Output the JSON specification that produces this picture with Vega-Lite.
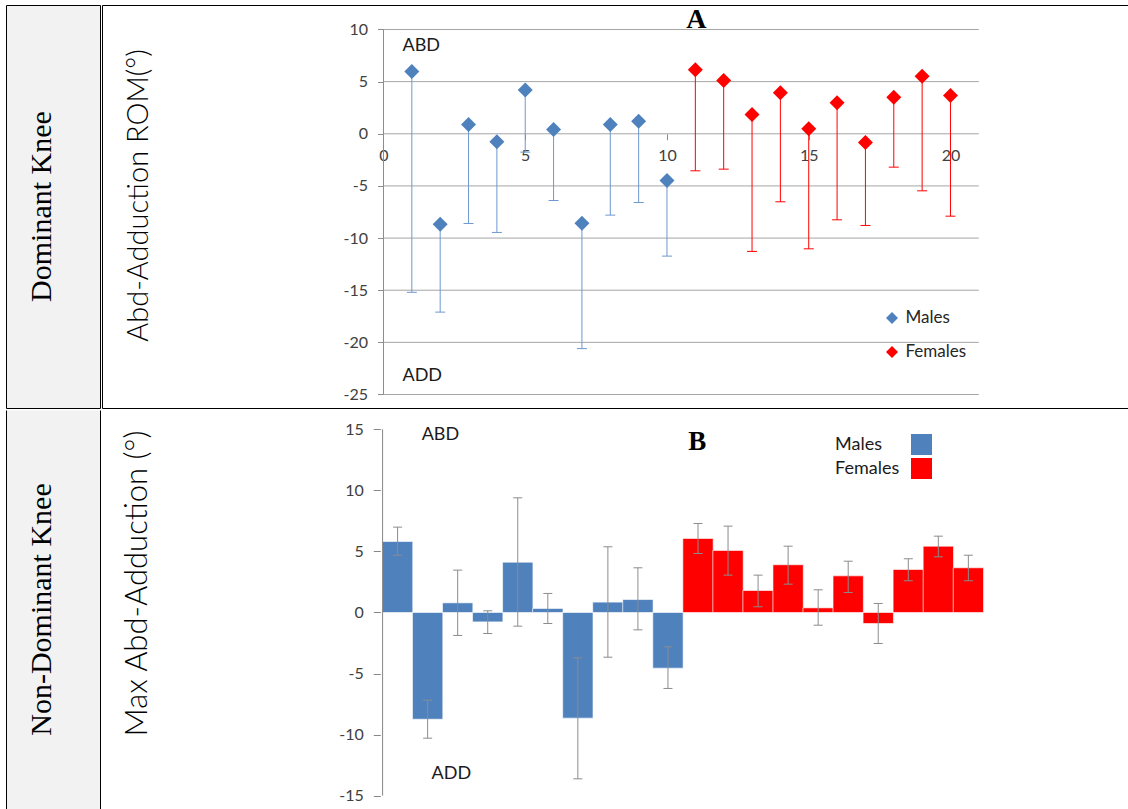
{
  "$schema": "https://vega.github.io/schema/vega-lite/v6.json",
  "padding": {"left": 5, "top": 4, "right": 0, "bottom": 0},
  "background": "white",
  "spacing": 0,
  "config": {"concat": {"spacing": 0}, "view": {"stroke": null}, "font": "Lato"},
  "datasets": {
    "knees": [
      {"id": 1, "sex": "Males", "dom": 5.97, "dom_low": -15.2, "nd": 5.81, "nd_lo": 4.69, "nd_hi": 6.99},
      {"id": 2, "sex": "Males", "dom": -8.67, "dom_low": -17.1, "nd": -8.74, "nd_lo": -10.29, "nd_hi": -7.18},
      {"id": 3, "sex": "Males", "dom": 0.89, "dom_low": -8.6, "nd": 0.79, "nd_lo": -1.88, "nd_hi": 3.47},
      {"id": 4, "sex": "Males", "dom": -0.77, "dom_low": -9.46, "nd": -0.77, "nd_lo": -1.72, "nd_hi": 0.14},
      {"id": 5, "sex": "Males", "dom": 4.2, "dom_low": -1.76, "nd": 4.12, "nd_lo": -1.12, "nd_hi": 9.39},
      {"id": 6, "sex": "Males", "dom": 0.41, "dom_low": -6.4, "nd": 0.33, "nd_lo": -0.9, "nd_hi": 1.56},
      {"id": 7, "sex": "Males", "dom": -8.57, "dom_low": -20.6, "nd": -8.65, "nd_lo": -13.62, "nd_hi": -3.71},
      {"id": 8, "sex": "Males", "dom": 0.89, "dom_low": -7.8, "nd": 0.85, "nd_lo": -3.66, "nd_hi": 5.38},
      {"id": 9, "sex": "Males", "dom": 1.21, "dom_low": -6.59, "nd": 1.06, "nd_lo": -1.42, "nd_hi": 3.66},
      {"id": 10, "sex": "Males", "dom": -4.48, "dom_low": -11.73, "nd": -4.56, "nd_lo": -6.22, "nd_hi": -2.81},
      {"id": 11, "sex": "Females", "dom": 6.13, "dom_low": -3.55, "nd": 6.06, "nd_lo": 4.83, "nd_hi": 7.29},
      {"id": 12, "sex": "Females", "dom": 5.11, "dom_low": -3.39, "nd": 5.08, "nd_lo": 3.06, "nd_hi": 7.07},
      {"id": 13, "sex": "Females", "dom": 1.85, "dom_low": -11.28, "nd": 1.8, "nd_lo": 0.47, "nd_hi": 3.06},
      {"id": 14, "sex": "Females", "dom": 3.93, "dom_low": -6.52, "nd": 3.91, "nd_lo": 2.32, "nd_hi": 5.43},
      {"id": 15, "sex": "Females", "dom": 0.48, "dom_low": -11.03, "nd": 0.38, "nd_lo": -1.04, "nd_hi": 1.86},
      {"id": 16, "sex": "Females", "dom": 2.97, "dom_low": -8.25, "nd": 3.0, "nd_lo": 1.64, "nd_hi": 4.2},
      {"id": 17, "sex": "Females", "dom": -0.83, "dom_low": -8.79, "nd": -0.9, "nd_lo": -2.54, "nd_hi": 0.74},
      {"id": 18, "sex": "Females", "dom": 3.51, "dom_low": -3.2, "nd": 3.52, "nd_lo": 2.6, "nd_hi": 4.4},
      {"id": 19, "sex": "Females", "dom": 5.52, "dom_low": -5.47, "nd": 5.43, "nd_lo": 4.56, "nd_hi": 6.25},
      {"id": 20, "sex": "Females", "dom": 3.67, "dom_low": -7.9, "nd": 3.66, "nd_lo": 2.6, "nd_hi": 4.69}
    ]
  },
  "resolve": {"scale": {"x": "independent", "y": "independent", "color": "independent"}, "legend": {"color": "independent"}},
  "vconcat": [
    {
      "spacing": 0,
      "resolve": {"scale": {"x": "independent", "y": "independent", "color": "independent"}, "legend": {"color": "independent"}},
      "hconcat": [
        {
          "width": 94, "height": 403,
          "view": {"fill": "#f2f2f2", "stroke": "black", "strokeWidth": 1},
          "data": {"values": [{"label": "Dominant Knee"}]},
          "mark": {"type": "text", "angle": 270, "font": "Liberation Serif", "fontSize": 30, "align": "center", "baseline": "middle", "color": "black"},
          "encoding": {
            "x": {"datum": 0.388, "type": "quantitative", "scale": {"domain": [0, 1]}, "axis": null},
            "y": {"datum": 0.5, "type": "quantitative", "scale": {"domain": [0, 1]}, "axis": null},
            "text": {"field": "label"}
          }
        },
        {
          "width": 1027, "height": 403,
          "view": {"stroke": "black", "strokeWidth": 1, "strokeDash": [1027, 403, 1430, 0]},
          "data": {"name": "knees"},
          "layer": [
            {
              "data": {"values": [{"g": 10}, {"g": 5}, {"g": 0}, {"g": -5}, {"g": -10}, {"g": -15}, {"g": -20}, {"g": -25}]},
              "mark": {"type": "rule", "color": "#a5a5a5", "strokeWidth": 1},
              "encoding": {
                "y": {"field": "g", "type": "quantitative", "scale": {"domain": [-26.295, 12.349], "nice": false, "zero": false},
                  "axis": {"orient": "left", "offset": -281.5, "values": [10, 5, 0, -5, -10, -15, -20, -25], "domain": false, "grid": false, "ticks": true, "tickSize": 6, "tickColor": "#8c8c8c", "labelPadding": 10, "labelFont": "Lato", "labelFontSize": 16, "labelColor": "#404040", "labelFlush": false, "labelOverlap": false, "labelExpr": "'' + datum.value",
                    "title": "Abd-Adduction ROM(°)", "titleFont": "Lato", "titleFontSize": 29, "titleFontWeight": 300, "titleColor": "#000000", "titleX": -245, "titleY": 190, "titleAngle": 270, "titleAlign": "center", "titleBaseline": "middle"}},
                "x": {"datum": 0, "type": "quantitative", "scale": {"domain": [-9.929, 26.297], "nice": false, "zero": false},
                  "axis": {"orient": "bottom", "offset": -274.2, "values": [0, 5, 10, 15, 20], "domain": false, "grid": false, "ticks": true, "tickSize": 6, "tickColor": "#8c8c8c", "labelPadding": 8, "labelFont": "Lato", "labelFontSize": 16, "labelColor": "#404040", "labelFlush": false, "labelOverlap": false, "title": null}},
                "x2": {"datum": 21}
              }
            },
            {
              "data": {"values": [{}]},
              "mark": {"type": "rule", "color": "#8c8c8c", "strokeWidth": 1},
              "encoding": {
                "x": {"datum": 0, "type": "quantitative"},
                "y": {"datum": 10, "type": "quantitative"},
                "y2": {"datum": -25}
              }
            },
            {
              "mark": {"type": "rule", "strokeWidth": 1},
              "encoding": {
                "x": {"field": "id", "type": "quantitative"},
                "y": {"field": "dom", "type": "quantitative"},
                "y2": {"field": "dom_low"},
                "stroke": {"field": "sex", "type": "nominal", "scale": {"domain": ["Males", "Females"], "range": ["#6e98cf", "#ff0000"]}, "legend": null}
              }
            },
            {
              "mark": {"type": "tick", "orient": "horizontal", "size": 10, "thickness": 1, "opacity": 1},
              "encoding": {
                "x": {"field": "id", "type": "quantitative"},
                "y": {"field": "dom_low", "type": "quantitative"},
                "fill": {"field": "sex", "type": "nominal", "scale": {"domain": ["Males", "Females"], "range": ["#6e98cf", "#ff0000"]}, "legend": null}
              }
            },
            {
              "mark": {"type": "point", "shape": "diamond", "filled": true, "size": 225, "opacity": 1},
              "encoding": {
                "x": {"field": "id", "type": "quantitative"},
                "y": {"field": "dom", "type": "quantitative"},
                "color": {"field": "sex", "type": "nominal", "scale": {"domain": ["Males", "Females"], "range": ["#4f81bd", "#ff0000"]},
                  "legend": {"orient": "none", "legendX": 781.5, "legendY": 304.5, "title": null, "symbolType": "diamond", "symbolSize": 144, "symbolStrokeWidth": 0, "labelFont": "Lato", "labelFontSize": 17, "labelColor": "#262626", "labelOffset": 5, "rowPadding": 16, "padding": 0}}
              }
            },
            {
              "data": {"values": [{"t": "ABD"}]},
              "mark": {"type": "text", "font": "Lato", "fontSize": 18, "align": "left", "baseline": "middle", "color": "#1a1a1a"},
              "encoding": {"x": {"datum": 0.67, "type": "quantitative"}, "y": {"datum": 8.37, "type": "quantitative"}, "text": {"field": "t"}}
            },
            {
              "data": {"values": [{"t": "ADD"}]},
              "mark": {"type": "text", "font": "Lato", "fontSize": 18, "align": "left", "baseline": "middle", "color": "#1a1a1a"},
              "encoding": {"x": {"datum": 0.67, "type": "quantitative"}, "y": {"datum": -23.27, "type": "quantitative"}, "text": {"field": "t"}}
            },
            {
              "data": {"values": [{"t": "A"}]},
              "mark": {"type": "text", "font": "Liberation Serif", "fontSize": 28, "fontWeight": "bold", "align": "center", "baseline": "middle", "color": "#000000"},
              "encoding": {"x": {"datum": 11.04, "type": "quantitative"}, "y": {"datum": 10.9, "type": "quantitative"}, "text": {"field": "t"}}
            }
          ]
        }
      ]
    },
    {
      "spacing": 0,
      "resolve": {"scale": {"x": "independent", "y": "independent", "color": "independent"}, "legend": {"color": "independent"}},
      "hconcat": [
        {
          "width": 94, "height": 399,
          "view": {"fill": "#f2f2f2", "stroke": "black", "strokeWidth": 1, "strokeDash": [0, 94, 399, 94, 399, 0]},
          "data": {"values": [{"label": "Non-Dominant Knee"}]},
          "mark": {"type": "text", "angle": 270, "font": "Liberation Serif", "fontSize": 30, "align": "center", "baseline": "middle", "color": "black"},
          "encoding": {
            "x": {"datum": 0.388, "type": "quantitative", "scale": {"domain": [0, 1]}, "axis": null},
            "y": {"datum": 0.5, "type": "quantitative", "scale": {"domain": [0, 1]}, "axis": null},
            "text": {"field": "label"}
          }
        },
        {
          "width": 1028, "height": 400,
          "data": {"name": "knees"},
          "layer": [
            {
              "mark": {"type": "bar", "width": 30.33, "stroke": "#ffffff", "strokeWidth": 1, "strokeOpacity": 0.6},
              "encoding": {
                "x": {"field": "id", "type": "quantitative", "scale": {"domain": [-8.707, 25.181], "nice": false, "zero": false}, "axis": null},
                "y": {"field": "nd", "type": "quantitative", "scale": {"domain": [-16.172, 16.58], "nice": false, "zero": false},
                  "axis": {"orient": "left", "offset": -279.3, "values": [15, 10, 5, 0, -5, -10, -15], "domain": false, "grid": false, "ticks": true, "tickSize": 7, "tickColor": "#868686", "labelPadding": 10, "labelFont": "Lato", "labelFontSize": 16, "labelColor": "#404040", "labelFlush": false, "labelOverlap": false, "labelExpr": "'' + datum.value",
                    "title": "Max Abd-Adduction (°)", "titleFont": "Lato", "titleFontSize": 31, "titleFontWeight": 300, "titleColor": "#000000", "titleX": -242.3, "titleY": 173, "titleAngle": 270, "titleAlign": "center", "titleBaseline": "middle"}},
                "y2": {"datum": 0},
                "color": {"field": "sex", "type": "nominal", "scale": {"domain": ["Males", "Females"], "range": ["#4f81bd", "#ff0000"]},
                  "legend": {"orient": "none", "legendX": 810, "legendY": 24, "title": null, "symbolType": "square", "symbolSize": 441, "symbolStrokeWidth": 0, "labelFont": "Lato", "labelFontSize": 18, "labelColor": "#1a1a1a", "labelAlign": "left", "labelOffset": -97, "rowPadding": 3, "padding": 0}}
              }
            },
            {
              "data": {"values": [{}]},
              "mark": {"type": "rule", "color": "#868686", "strokeWidth": 1},
              "encoding": {
                "x": {"datum": 0.5, "type": "quantitative", "axis": null},
                "y": {"datum": -15, "type": "quantitative"},
                "y2": {"datum": 15}
              }
            },
            {
              "mark": {"type": "rule", "color": "#8c8c8c", "strokeWidth": 1},
              "encoding": {
                "x": {"field": "id", "type": "quantitative", "axis": null},
                "y": {"field": "nd_lo", "type": "quantitative"},
                "y2": {"field": "nd_hi"}
              }
            },
            {
              "mark": {"type": "tick", "orient": "horizontal", "size": 9, "thickness": 1, "color": "#8c8c8c", "opacity": 1},
              "encoding": {
                "x": {"field": "id", "type": "quantitative", "axis": null},
                "y": {"field": "nd_lo", "type": "quantitative"}
              }
            },
            {
              "mark": {"type": "tick", "orient": "horizontal", "size": 9, "thickness": 1, "color": "#8c8c8c", "opacity": 1},
              "encoding": {
                "x": {"field": "id", "type": "quantitative", "axis": null},
                "y": {"field": "nd_hi", "type": "quantitative"}
              }
            },
            {
              "data": {"values": [{"t": "ABD"}]},
              "mark": {"type": "text", "font": "Lato", "fontSize": 18, "align": "left", "baseline": "middle", "color": "#1a1a1a"},
              "encoding": {"x": {"datum": 1.8, "type": "quantitative", "axis": null}, "y": {"datum": 14.57, "type": "quantitative"}, "text": {"field": "t"}}
            },
            {
              "data": {"values": [{"t": "ADD"}]},
              "mark": {"type": "text", "font": "Lato", "fontSize": 18, "align": "left", "baseline": "middle", "color": "#1a1a1a"},
              "encoding": {"x": {"datum": 2.13, "type": "quantitative", "axis": null}, "y": {"datum": -13.22, "type": "quantitative"}, "text": {"field": "t"}}
            },
            {
              "data": {"values": [{"t": "B"}]},
              "mark": {"type": "text", "font": "Liberation Serif", "fontSize": 27, "fontWeight": "bold", "align": "center", "baseline": "middle", "color": "#000000"},
              "encoding": {"x": {"datum": 10.973, "type": "quantitative", "axis": null}, "y": {"datum": 13.96, "type": "quantitative"}, "text": {"field": "t"}}
            }
          ]
        }
      ]
    }
  ]
}
